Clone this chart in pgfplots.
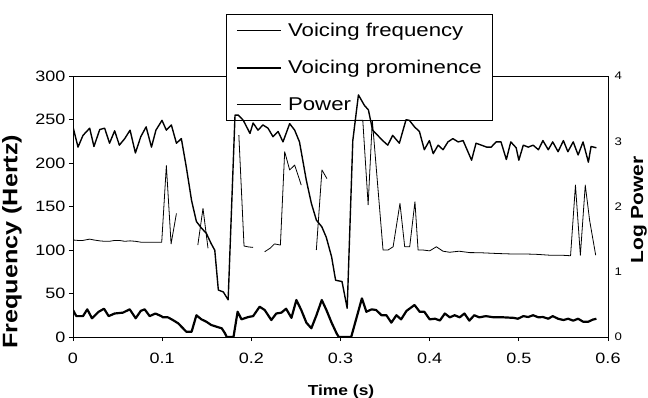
\documentclass[border=0pt]{standalone}
\usepackage{fontspec}
\setmainfont{Liberation Sans}[FakeStretch=1.2]
\usepackage{pgfplots}
\pgfplotsset{compat=1.18}
\begin{document}
\begin{tikzpicture}
\pgfplotsset{
  base/.style={
    scale only axis, width=535bp, height=261bp,
    at={(0,0)}, anchor=south west,
    xmin=0, xmax=0.6,
  }
}
% ---------- frame, ticks, labels, legend ----------
\begin{axis}[base,
  ymin=0, ymax=300,
  axis line style={line width=1pt},
  xtick={0,0.1,0.2,0.3,0.4,0.5,0.6},
  xticklabels={0,0.1,0.2,0.3,0.4,0.5,0.6},
  ytick={0,50,100,150,200,250,300},
  yticklabels={0,50,100,150,200,250,300},
  xtick pos=lower, ytick pos=left,
  tick align=outside, major tick length=4bp,
  tick style={black, line width=0.8pt},
  ticklabel style={font=\fontsize{15bp}{15bp}\selectfont},
  xticklabel style={yshift=-9bp},
  xlabel={Time (s)}, ylabel={Frequency (Hertz)},
  xlabel style={at={(axis description cs:0.501,-0.21)}, anchor=center,
    font=\fontsize{14.5bp}{14.5bp}\selectfont\bfseries},
  ylabel style={at={(axis description cs:-0.114,0.365)}, anchor=center,
    font=\fontsize{21bp}{21bp}\selectfont\bfseries},
  legend style={at={(axis description cs:0.286,1.236)}, anchor=north west,
    draw=black, line width=1pt, fill=white,
    font=\fontsize{18.5bp}{18.5bp}\selectfont,
    inner xsep=9bp, inner ysep=5.5bp, column sep=4bp, row sep=16bp,
    nodes={inner sep=2bp, text height=14bp, text depth=3bp}},
  legend cell align=left,
  legend image code/.code={\draw[#1] (0bp,0bp) -- (44bp,0bp);},
]
\addlegendimage{black, line width=0.9pt}
\addlegendentry{Voicing frequency}
\addlegendimage{black, line width=2.6pt}
\addlegendentry{Voicing prominence}
\addlegendimage{black, line width=1pt}
\addlegendentry{Power}
\end{axis}
% ---------- voicing frequency and prominence (Hz) ----------
\begin{axis}[base, ymin=0, ymax=300, hide axis, unbounded coords=jump]
\addplot[black, line width=0.8pt, line join=round] coordinates {
(0,111.5) (0.0056,111) (0.0112,111) (0.0187,112.5) (0.0235,111.5) (0.030,110.5)
(0.0355,110) (0.041,110) (0.0467,111) (0.052,111) (0.058,110) (0.064,110.5)
(0.070,110) (0.076,109) (0.082,109) (0.088,109) (0.093,109) (0.0995,109)
(0.1047,197) (0.110,107) (0.116,142) (0.128,nan)
(0.140,105.7) (0.1458,147.8) (0.1514,102) (0.17,nan)
(0.186,232) (0.1918,104.6) (0.197,103.5) (0.2019,103) (0.208,nan)
(0.215,98) (0.221,102) (0.226,107) (0.2326,105.7) (0.2374,213) (0.243,192)
(0.2486,197.6) (0.256,174.6) (0.265,nan)
(0.2729,100) (0.2792,192) (0.2848,182) (0.30,nan)
(0.316,249) (0.325,249) (0.331,152) (0.3357,249) (0.3477,100) (0.3533,100)
(0.359,103.7) (0.3667,153.6) (0.372,103.7) (0.3776,103.7) (0.3835,155.5)
(0.387,100) (0.3925,100) (0.400,99) (0.4075,103.7) (0.415,98.6) (0.4225,97.4)
(0.433,98.6) (0.445,97) (0.456,96.9) (0.475,96) (0.49,95.5) (0.505,95.5)
(0.52,95) (0.535,94) (0.548,94) (0.558,93.4) (0.5635,174.6) (0.569,94)
(0.5745,174.6) (0.5794,134) (0.5862,94)
};
\addplot[black, line width=2.2pt, line join=round] coordinates {
(0,31) (0.0037,24) (0.0112,24) (0.016,31.8) (0.0213,21.5) (0.0288,29)
(0.0348,32.5) (0.04,24) (0.0467,27) (0.056,28) (0.0636,31.8) (0.0703,21.5)
(0.076,30) (0.0804,31.8) (0.086,24) (0.0924,27) (0.099,24) (0.1009,22.6)
(0.1065,22.6) (0.112,19.5) (0.118,15.7) (0.1234,10) (0.1271,6) (0.133,6)
(0.1384,25) (0.144,20.3) (0.1495,17.6) (0.155,13.8) (0.161,11.8) (0.1668,10)
(0.1705,4.2) (0.1724,0) (0.18,0) (0.1846,29) (0.189,20.3) (0.1966,23)
(0.202,24) (0.2093,34.8) (0.215,31) (0.2224,19.5) (0.228,27) (0.2337,28)
(0.239,32.5) (0.245,22) (0.2505,42.5) (0.256,31) (0.2617,16.5) (0.2673,10)
(0.273,25) (0.279,42.5) (0.2842,31) (0.29,16.5) (0.2956,4.2) (0.298,0)
(0.312,0) (0.324,44.4) (0.329,29) (0.335,31.8) (0.340,31) (0.346,25)
(0.3515,25) (0.357,16.5) (0.3627,25) (0.368,20.3) (0.374,30) (0.383,36.8)
(0.3888,29) (0.394,29) (0.400,20.3) (0.406,21) (0.4115,19) (0.417,27)
(0.4226,22.6) (0.428,25) (0.4337,22.6) (0.439,27) (0.4445,18.8) (0.45,25)
(0.4557,22.6) (0.463,24) (0.472,22.6) (0.483,22.6) (0.494,22) (0.499,21)
(0.505,24) (0.5105,23) (0.516,25) (0.522,22.6) (0.527,23) (0.533,21)
(0.538,24) (0.544,21) (0.55,19.5) (0.5553,21) (0.561,18.8) (0.5665,21)
(0.572,17.6) (0.578,17.6) (0.583,20) (0.587,21)
};
\end{axis}
% ---------- power (log, right axis) ----------
\begin{axis}[base, ymin=0, ymax=4,
  axis x line=none, axis y line*=right,
  axis line style={line width=1pt},
  ytick={0,1,2,3,4}, yticklabels={0,1,2,3,4},
  ytick style={draw=none},
  yticklabel style={font=\fontsize{11bp}{11bp}\selectfont, xshift=3bp},
  ylabel={Log Power},
  ylabel style={at={(axis description cs:1.058,0.487)}, anchor=center,
    font=\fontsize{17.5bp}{17.5bp}\selectfont\bfseries},
]
\addplot[black, line width=1.4pt, line join=round] coordinates {
(0,3.22) (0.0056,2.91) (0.0112,3.09) (0.0187,3.20) (0.0235,2.92) (0.030,3.18)
(0.0355,3.20) (0.041,2.97) (0.0467,3.16) (0.052,2.94) (0.058,3.04) (0.064,3.17)
(0.070,2.82) (0.076,3.07) (0.082,3.22) (0.088,2.91) (0.093,3.17) (0.0998,3.32)
(0.1047,3.17) (0.1103,3.25) (0.116,2.97) (0.1215,3.04) (0.127,2.61) (0.133,2.09)
(0.1384,1.77) (0.144,1.67) (0.1495,1.59) (0.155,1.43) (0.159,1.33) (0.163,0.72)
(0.1686,0.69) (0.174,0.57) (0.1817,3.40) (0.1855,3.40) (0.191,3.32) (0.1985,3.12)
(0.202,3.28) (0.2075,3.17) (0.213,3.25) (0.2187,3.20) (0.2243,3.07) (0.23,3.15)
(0.2355,2.99) (0.243,3.27) (0.2486,3.17) (0.254,2.99) (0.2617,2.40) (0.2673,2.05)
(0.273,1.79) (0.279,1.69) (0.284,1.53) (0.29,1.23) (0.2945,0.87) (0.3017,0.85)
(0.3075,0.44) (0.3138,3.01) (0.3201,3.71) (0.3268,3.55) (0.3313,3.48) (0.336,3.17)
(0.3417,3.09) (0.3473,3.01) (0.353,2.94) (0.3585,3.09) (0.366,2.97) (0.3735,3.33)
(0.3773,3.32) (0.383,3.22) (0.3885,3.15) (0.394,2.87) (0.3997,3.01) (0.404,2.81)
(0.4095,2.94) (0.415,2.87) (0.4205,2.99) (0.426,3.04) (0.432,2.99) (0.4375,3.01)
(0.447,2.71) (0.452,2.97) (0.458,2.94) (0.464,2.91) (0.469,2.91) (0.4745,2.99)
(0.48,2.99) (0.486,2.72) (0.491,2.99) (0.497,2.90) (0.5,2.71) (0.505,2.94)
(0.5105,2.91) (0.516,2.94) (0.522,2.87) (0.527,3.01) (0.533,2.87) (0.538,2.99)
(0.544,2.84) (0.55,3.01) (0.555,2.84) (0.561,2.99) (0.5665,2.79) (0.572,2.99)
(0.578,2.68) (0.581,2.92) (0.587,2.90)
};
\end{axis}
\pgfresetboundingbox
\path[use as bounding box] (-73bp,-61bp) rectangle (575bp,337bp);
\end{tikzpicture}
\end{document}
